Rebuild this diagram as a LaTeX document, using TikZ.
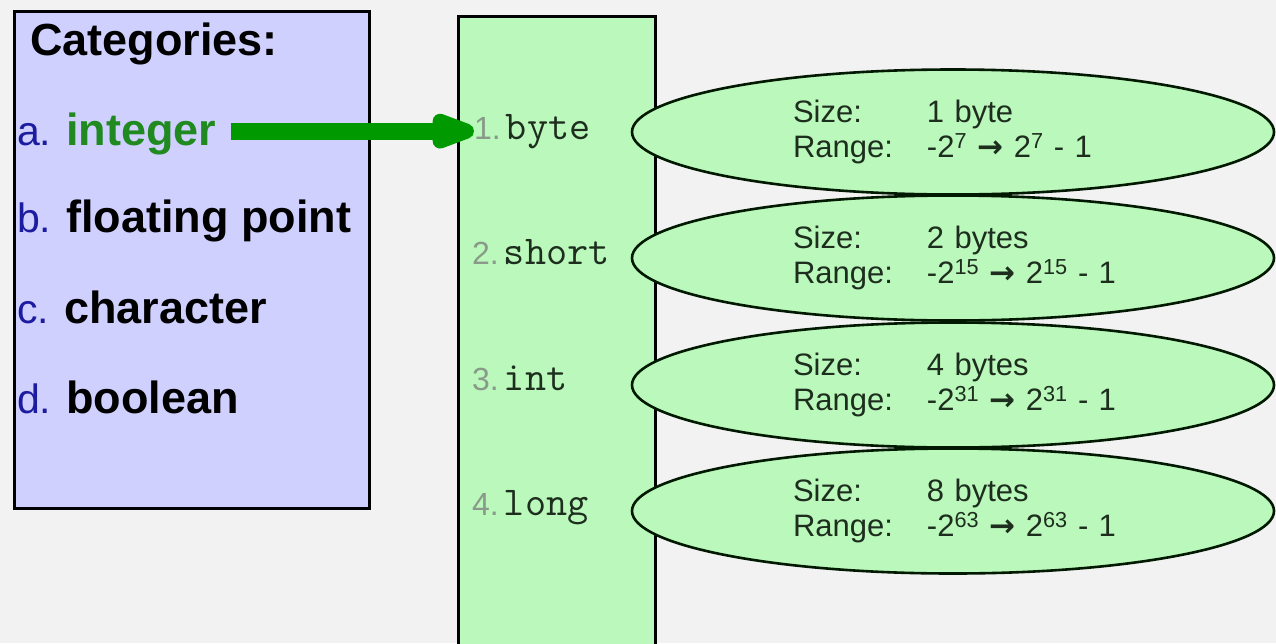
\documentclass[tikz,border=0pt]{standalone}
\usepackage{fontspec}
\setmainfont{Liberation Sans}
\newfontfamily\arrowfont{DejaVu Sans}
\usetikzlibrary{arrows.meta,shapes.geometric}

\definecolor{bggray}{HTML}{F2F2F2}
\definecolor{lavender}{HTML}{D0D0FF}
\definecolor{mint}{HTML}{BBF8BB}
\definecolor{letterblue}{HTML}{1C1CA0}
\definecolor{arrowgreen}{HTML}{009A00}
\definecolor{intgreen}{HTML}{208A20}
\definecolor{numgray}{HTML}{8A9A8A}
\definecolor{inktext}{HTML}{1E2E1E}
\newcommand{\numlabel}[1]{{\fontsize{32}{36}\selectfont\rmfamily\color{numgray}#1}\hspace{5pt}}
\newcommand{\catletter}[1]{{\fontsize{41}{46}\selectfont\mdseries\color{letterblue}#1}\hspace{15pt}}
\newcommand{\inforow}[2]{\makebox[134pt][l]{#1}\mbox{#2}}
\newcommand{\goesto}{{\arrowfont\bfseries →}}

\begin{document}
\begin{tikzpicture}[
  x=1pt,y=-1pt,
  catbox/.style={draw,line width=2.6pt,fill=lavender,anchor=north west,inner sep=0},
  typebox/.style={catbox,fill=mint},
  info/.style={ellipse,draw=black!90!green,line width=2.6pt,fill=mint,
    minimum width=642pt,minimum height=125pt,text width=320pt,align=left,
    inner sep=0,text=inktext,font=\fontsize{31}{35}\selectfont},
  item/.style={anchor=base west,inner sep=0,font=\fontsize{45}{50}\selectfont\bfseries},
  typename/.style={anchor=base west,inner sep=0,text=inktext,
    font=\fontsize{41}{44}\selectfont\ttfamily},
  to/.style={-{Triangle[length=60pt,width=36pt,round]},line width=17pt,arrowgreen}]

  \fill[bggray] (0,0) rectangle (1276,643);
  \useasboundingbox (0,0) rectangle (1276,643);

  % The two boxes
  \node[catbox,minimum width=355pt,minimum height=497pt] (cat_box) at (13,10) {};
  \node[typebox,minimum width=197pt,minimum height=660pt] (type_box) at (457,15) {};

  % Categories
  \node[item] (cat_title) at (30,55) {Categories:};
  \node[item] (cat_int) at (17,145) {\catletter{a.}\textcolor{intgreen}{integer}};
  \node[item] (cat_float) at (17,232) {\catletter{b.}floating point};
  \node[item] (cat_char) at (17,323) {\catletter{c.}character};
  \node[item] (cat_bool) at (17,413) {\catletter{d.}boolean};

  % Integer types
  \node[typename] (byte_name) at (474,139) {\numlabel{1.}byte};
  \node[typename] (short_name) at (472,264) {\numlabel{2.}short};
  \node[typename] (int_name) at (472,390) {\numlabel{3.}int};
  \node[typename] (long_name) at (472,515) {\numlabel{4.}long};

  % Size and range of each type
  \node[info] (byte_info) at (953,132)
    {\inforow{Size:}{1 byte}\\\inforow{Range:}{-2\textsuperscript{7} \goesto{} 2\textsuperscript{7} - 1}};
  \node[info] (short_info) at (953,258)
    {\inforow{Size:}{2 bytes}\\\inforow{Range:}{-2\textsuperscript{15} \goesto{} 2\textsuperscript{15} - 1}};
  \node[info] (int_info) at (953,385)
    {\inforow{Size:}{4 bytes}\\\inforow{Range:}{-2\textsuperscript{31} \goesto{} 2\textsuperscript{31} - 1}};
  \node[info] (long_info) at (953,511)
    {\inforow{Size:}{8 bytes}\\\inforow{Range:}{-2\textsuperscript{63} \goesto{} 2\textsuperscript{63} - 1}};

  % The arrow
  \draw[to] ([xshift=14pt]cat_int.east |- byte_name.west) -- (byte_name.west);
\end{tikzpicture}
\end{document}
